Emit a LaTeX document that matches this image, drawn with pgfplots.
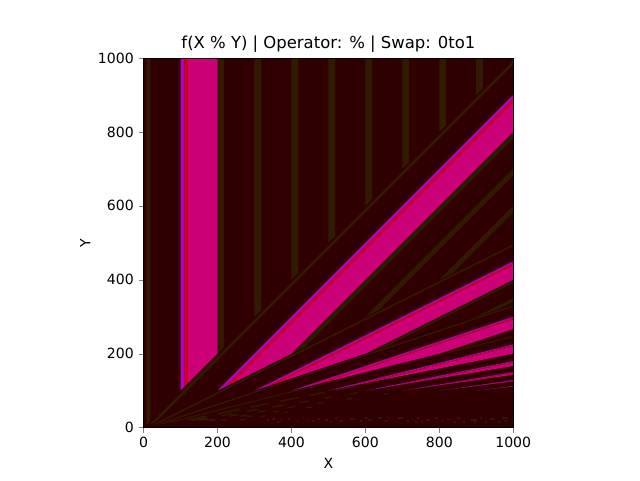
\documentclass[border=0pt]{standalone}
\usepackage{pgfplots}
\pgfplotsset{compat=1.18}
\usepackage{fontspec}
\setmainfont{DejaVu Sans}
\definecolor{bgmaroon}{RGB}{48,0,0}
\definecolor{bandbrown}{RGB}{48,26,0}
\definecolor{bandmag}{RGB}{176,0,192}
\definecolor{bandred}{RGB}{208,0,32}
\definecolor{bandpink}{RGB}{204,0,119}

\begin{document}
\begin{tikzpicture}
\path[use as bounding box] (0,0) rectangle (16cm,12cm);
\begin{axis}[
    at={(3.59cm,1.31cm)},
    anchor=south west,
    width=9.24cm,
    height=9.24cm,
    scale only axis,
    xmin=0, xmax=1000,
    ymin=0, ymax=1000,
    xtick={0,200,400,600,800,1000},
    ytick={0,200,400,600,800,1000},
    tick align=outside,
    tick pos=left,
    major tick length=3.5pt,
    xlabel={X},
    ylabel={Y},
    ylabel style={yshift=-1.4pt},
    title={f(X \% Y) | Operator: \% | Swap: 0to1},
    every axis title/.append style={font=\fontsize{11.7}{14}\selectfont, yshift=-5.3pt},
    tick label style={font=\fontsize{10}{12}\selectfont},
    label style={font=\fontsize{10}{12}\selectfont},
    /pgf/number format/assume math mode=true,
    /pgf/number format/1000 sep={},
    axis background/.style={fill=bgmaroon},
    unbounded coords=jump,
    axis on top,
]
% value 8-18, one wedge per multiple of Y
\addplot[fill=bandbrown, draw=none] coordinates {
 (8,8) (18,18) (18,1000) (8,1000) (nan,nan)
 (16,8) (36,18) (1000,982) (1000,992) (nan,nan)
 (24,8) (54,18) (1000,491) (1000,496) (nan,nan)
 (32,8) (72,18) (1000,327.33) (1000,330.67) (nan,nan)
 (40,8) (90,18) (1000,245.5) (1000,248)
};
% further out the wedges only show as broken dashes
\addplot[bandbrown, line width=0.9pt] coordinates {
 (120,21.4) (170,31.4) (nan,nan) (200,37.4) (260,49.4) (nan,nan)
 (290,55.4) (340,65.4) (nan,nan) (370,71.4) (420,81.4) (nan,nan)
 (450,87.4) (490,95.4) (nan,nan) (520,101.4) (570,111.4) (nan,nan)
 (600,117.4) (640,125.4) (nan,nan) (670,131.4) (700,137.4) (nan,nan)
 (130,19.5) (170,26.2) (nan,nan) (210,32.8) (240,37.8) (nan,nan)
 (280,44.5) (310,49.5) (nan,nan) (350,56.2) (380,61.2) (nan,nan)
 (420,67.8) (445,72) (nan,nan) (490,79.5) (510,82.8) (nan,nan)
 (560,91.2) (580,94.5) (nan,nan)
 (150,19.6) (175,23.1) (nan,nan) (230,31) (255,34.6) (nan,nan)
 (310,42.4) (330,45.3) (nan,nan) (390,53.9) (410,56.7) (nan,nan)
 (470,65.3) (485,67.4) (nan,nan) (550,76.7) (565,78.9) (nan,nan)
 (650,91) (660,92.4) (nan,nan)
 (170,19.6) (190,22.1) (nan,nan) (260,30.9) (280,33.4) (nan,nan)
 (350,42.1) (365,44) (nan,nan) (440,53.4) (455,55.3) (nan,nan)
 (180,18.6) (195,20.2) (nan,nan) (280,29.7) (295,31.3) (nan,nan)
 (380,40.8) (390,41.9) (nan,nan)
 (210,19.7) (225,21.2) (nan,nan) (320,30.7) (330,31.7) (nan,nan)
 (260,20.6) (275,21.8)
};
% speckle along the bottom
\addplot[bandbrown, line width=1.3pt] coordinates {
 (333,20) (338,20) (nan,nan) (347,24) (356,24) (nan,nan) (369,19) (374,19) (nan,nan)
 (392,23) (397,23) (nan,nan) (414,18) (419,18) (nan,nan) (446,22) (451,22) (nan,nan)
 (455,17) (460,17) (nan,nan) (473,24) (478,24) (nan,nan) (491,20) (500,20) (nan,nan)
 (518,25) (523,25) (nan,nan) (531,18) (540,18) (nan,nan) (559,23) (572,23) (nan,nan)
 (586,17) (591,17) (nan,nan) (608,21) (617,21) (nan,nan) (635,25) (644,25) (nan,nan)
 (653,18) (658,18) (nan,nan) (671,22) (676,22) (nan,nan) (689,26) (703,26) (nan,nan)
 (712,17) (717,17) (nan,nan) (725,21) (730,21) (nan,nan) (739,25) (744,25) (nan,nan)
 (752,15) (757,15) (nan,nan) (766,20) (775,20) (nan,nan) (788,26) (797,26) (nan,nan)
 (806,17) (811,17) (nan,nan) (820,22) (833,22) (nan,nan) (847,26) (856,26) (nan,nan)
 (865,15) (870,15) (nan,nan) (887,21) (901,21) (nan,nan) (910,26) (915,26) (nan,nan)
 (924,16) (929,16) (nan,nan) (937,23) (951,23) (nan,nan) (960,15) (965,15) (nan,nan)
 (969,26) (987,26) (nan,nan) (978,18) (983,18) (nan,nan) (996,22) (1000,22) (nan,nan)
 (360,15) (365,15) (nan,nan) (430,26) (435,26) (nan,nan) (505,15) (510,15) (nan,nan)
 (600,27) (605,27) (nan,nan) (660,27) (665,27) (nan,nan) (735,15) (740,15) (nan,nan)
 (840,16) (845,16) (nan,nan) (895,15) (900,15)
};
% value 200-218, 300-318, ... 900-918
\addplot[fill=bandbrown, draw=none] coordinates {
 (200,200) (218,218) (218,1000) (200,1000) (nan,nan)
 (400,200) (436,218) (1000,782) (1000,800) (nan,nan)
 (600,200) (654,218) (1000,391) (1000,400) (nan,nan)
 (800,200) (872,218) (1000,260.67) (1000,266.67) (nan,nan)
 (300,300) (318,318) (318,1000) (300,1000) (nan,nan)
 (600,300) (636,318) (1000,682) (1000,700) (nan,nan)
 (900,300) (954,318) (1000,341) (1000,350) (nan,nan)
 (400,400) (418,418) (418,1000) (400,1000) (nan,nan)
 (800,400) (836,418) (1000,582) (1000,600) (nan,nan)
 (500,500) (518,518) (518,1000) (500,1000) (nan,nan)
 (600,600) (618,618) (618,1000) (600,1000) (nan,nan)
 (700,700) (718,718) (718,1000) (700,1000) (nan,nan)
 (800,800) (818,818) (818,1000) (800,1000) (nan,nan)
 (900,900) (918,918) (918,1000) (900,1000)
};
% value 120-200
\addplot[fill=bandpink, draw=none] coordinates {
 (120,120) (200,200) (200,1000) (120,1000) (nan,nan)
 (240,120) (400,200) (1000,800) (1000,880) (nan,nan)
 (360,120) (600,200) (1000,400) (1000,440) (nan,nan)
 (480,120) (800,200) (1000,266.67) (1000,293.33) (nan,nan)
 (600,120) (1000,200) (1000,220) (nan,nan)
 (720,120) (1000,166.67) (1000,176) (nan,nan)
 (840,120) (1000,142.86) (1000,146.67) (nan,nan)
 (960,120) (1000,125) (1000,125.71)
};
% value 110-120
\addplot[fill=bandred, draw=none] coordinates {
 (110,110) (120,120) (120,1000) (110,1000) (nan,nan)
 (220,110) (240,120) (1000,880) (1000,890) (nan,nan)
 (330,110) (360,120) (1000,440) (1000,445) (nan,nan)
 (440,110) (480,120) (1000,293.33) (1000,296.67) (nan,nan)
 (550,110) (600,120) (1000,220) (1000,222.5) (nan,nan)
 (660,110) (720,120) (1000,176) (1000,178) (nan,nan)
 (770,110) (840,120) (1000,146.67) (1000,148.33) (nan,nan)
 (880,110) (960,120) (1000,125.71) (1000,127.14)
};
% value 100-110
\addplot[fill=bandmag, draw=none] coordinates {
 (100,100) (110,110) (110,1000) (100,1000) (nan,nan)
 (200,100) (220,110) (1000,890) (1000,900) (nan,nan)
 (300,100) (330,110) (1000,445) (1000,450) (nan,nan)
 (400,100) (440,110) (1000,296.67) (1000,300) (nan,nan)
 (500,100) (550,110) (1000,222.5) (1000,225) (nan,nan)
 (600,100) (660,110) (1000,178) (1000,180) (nan,nan)
 (700,100) (770,110) (1000,148.33) (1000,150) (nan,nan)
 (800,100) (880,110) (1000,127.14) (1000,128.57) (nan,nan)
 (900,100) (990,110) (1000,111.25) (1000,112.5)
};
\end{axis}
\end{tikzpicture}
\end{document}
